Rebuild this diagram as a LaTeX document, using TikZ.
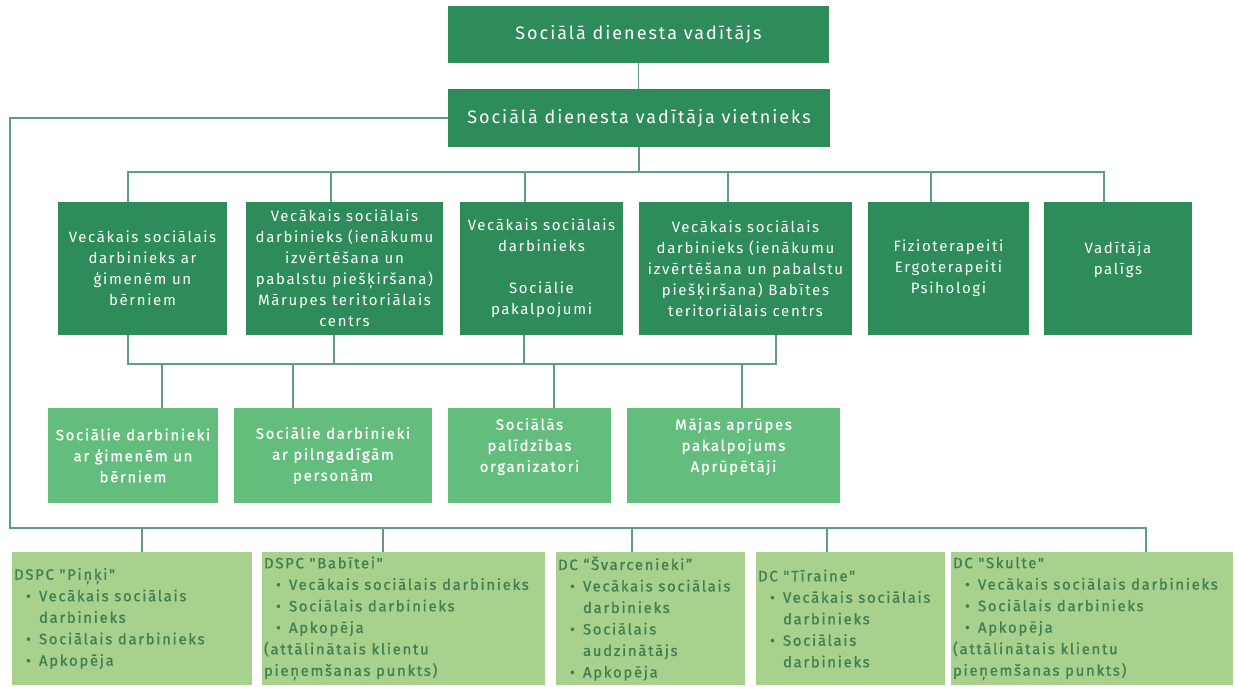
\documentclass[tikz,border=0pt]{standalone}
\usepackage{fontspec}
\setmainfont{Fira Sans}[LetterSpace=11]
\newfontfamily\medfont{Fira Sans}[LetterSpace=11, FakeBold=0.8]
\definecolor{darkgreen}{HTML}{2E8C5A}
\definecolor{midgreen}{HTML}{63BD7D}
\definecolor{lightgreen}{HTML}{A9D18E}
\definecolor{textgreen}{HTML}{3F7F52}
\definecolor{linegreen}{HTML}{5F9A8A}
\newcommand\punkts{\hspace*{12pt}\makebox[13pt][l]{\textbullet}}
\newcommand\atkape{\hspace*{25pt}}
\begin{document}
\begin{tikzpicture}[x = 1pt, y = -1pt,
    joinline/.style = {draw = linegreen, line width = 1.3pt, line cap = rect},
    headbox/.style = {fill = darkgreen, text = white, inner sep = 0pt, align = center, font = \fontsize{18}{22}\selectfont},
    rolebox/.style = {fill = darkgreen, text = white, inner sep = 0pt, align = center, minimum height = 133pt, font = \fontsize{15}{21}\selectfont},
    staffbox/.style = {fill = midgreen, text = white, inner sep = 0pt, align = center, minimum height = 95pt, font = \medfont\fontsize{15}{21}\selectfont},
    unitbox/.style = {fill = lightgreen, inner sep = 0pt, minimum height = 133pt},
    unittext/.style = {text = textgreen, inner sep = 0pt, align = left, anchor = west, font = \medfont\fontsize{15}{21.5}\selectfont}
  ]
  \path[use as bounding box, fill = white] (0, 0) rectangle (1235, 686);
  \def\topbus{172}
  \def\midbus{364}
  \def\lowbus{528}

  \node[headbox, minimum width = 381pt, minimum height = 57pt] (leader) at (638.5, 34.5) {Sociālā dienesta vadītājs};
  \node[headbox, minimum width = 382pt, minimum height = 58pt] (deputy) at (639, 118) {Sociālā dienesta vadītāja vietnieks};

  \node[rolebox, minimum width = 169pt] (b1) at (142.5, 268.5) {Vecākais sociālais\\darbinieks ar\\ģimenēm un\\bērniem};
  \node[rolebox, minimum width = 197pt] (b2) at (344.5, 268.5) {Vecākais sociālais\\darbinieks (ienākumu\\izvērtēšana un\\pabalstu piešķiršana)\\Mārupes teritoriālais\\centrs};
  \node[rolebox, minimum width = 163pt] (b3) at (541.5, 268.5) {Vecākais sociālais\\darbinieks\\[21pt]Sociālie\\pakalpojumi};
  \node[rolebox, minimum width = 213pt] (b4) at (745.5, 268.5) {Vecākais sociālais\\darbinieks (ienākumu\\izvērtēšana un pabalstu\\piešķiršana) Babītes\\teritoriālais centrs};
  \node[rolebox, minimum width = 161pt] (b5) at (948.5, 268.5) {Fizioterapeiti\\Ergoterapeiti\\Psihologi};
  \node[rolebox, minimum width = 148pt] (b6) at (1118, 268.5) {Vadītāja\\palīgs\\\mbox{}};

  \node[staffbox, minimum width = 170pt] (c1) at (133, 455.5) {Sociālie darbinieki\\ar ģimenēm un\\bērniem};
  \node[staffbox, minimum width = 198pt] (c2) at (333, 455.5) {Sociālie darbinieki\\ar pilngadīgām\\personām};
  \node[staffbox, minimum width = 163pt, text depth = 21pt] (c3) at (529.5, 455.5) {Sociālās\\palīdzības\\organizatori};
  \node[staffbox, minimum width = 213pt, text depth = 21pt] (c4) at (733.5, 455.5) {Mājas aprūpes\\pakalpojums\\Aprūpētāji};

  \node[unitbox, minimum width = 240pt] (d1) at (132, 618.5) {};
  \node[unitbox, minimum width = 283pt] (d2) at (403.5, 618.5) {};
  \node[unitbox, minimum width = 189pt] (d3) at (650.5, 618.5) {};
  \node[unitbox, minimum width = 189pt] (d4) at (850.5, 618.5) {};
  \node[unitbox, minimum width = 282pt] (d5) at (1092, 618.5) {};
  \node[unittext] (d1text) at ([xshift = 2pt]d1.west) {DSPC "Piņķi"\\\punkts Vecākais sociālais\\\atkape darbinieks\\\punkts Sociālais darbinieks\\\punkts Apkopēja};
  \node[unittext] (d2text) at ([xshift = 2pt]d2.west) {DSPC "Babītei"\\\punkts Vecākais sociālais darbinieks\\\punkts Sociālais darbinieks\\\punkts Apkopēja\\(attālinātais klientu\\pieņemšanas punkts)};
  \node[unittext] (d3text) at ([xshift = 2pt]d3.west) {DC “Švarcenieki”\\\punkts Vecākais sociālais\\\atkape darbinieks\\\punkts Sociālais\\\atkape audzinātājs\\\punkts Apkopēja};
  \node[unittext] (d4text) at ([xshift = 2pt]d4.west) {DC "Tīraine"\\\punkts Vecākais sociālais\\\atkape darbinieks\\\punkts Sociālais\\\atkape darbinieks};
  \node[unittext] (d5text) at ([xshift = 2pt]d5.west) {DC "Skulte"\\\punkts Vecākais sociālais darbinieks\\\punkts Sociālais darbinieks\\\punkts Apkopēja\\(attālinātais klientu\\pieņemšanas punkts)};

  \draw[joinline] (leader.south) -- (leader.south |- deputy.north);
  \coordinate (topmid) at (639, \topbus);
  \draw[joinline] (deputy.south) -- (topmid);
  \foreach \n/\x in {b1/128, b2/331, b3/525, b4/728, b5/931, b6/1104}
  {
    \coordinate (top\n) at (\x, \topbus);
    \draw[joinline] (top\n) -- (top\n |- \n.north);
  }
  \draw[joinline] (topb1) -- (topb6);

  \foreach \n/\x in {b1/128, b2/334, b3/524, b4/776}
  {
    \coordinate (mid\n) at (\x, \midbus);
    \draw[joinline] (mid\n |- \n.south) -- (mid\n);
  }
  \draw[joinline] (midb1) -- (midb4);
  \foreach \n/\x in {c1/162, c2/293, c3/554, c4/742}
  {
    \coordinate (mid\n) at (\x, \midbus);
    \draw[joinline] (mid\n) -- (mid\n |- \n.north);
  }

  \coordinate (lowleft) at (10, \lowbus);
  \foreach \n/\x in {d1/142, d2/383, d3/632, d4/827, d5/1146}
  {
    \coordinate (low\n) at (\x, \lowbus);
    \draw[joinline] (low\n) -- (low\n |- \n.north);
  }
  \draw[joinline] (deputy.west) -| (lowleft) -- (lowd5);
\end{tikzpicture}
\end{document}
